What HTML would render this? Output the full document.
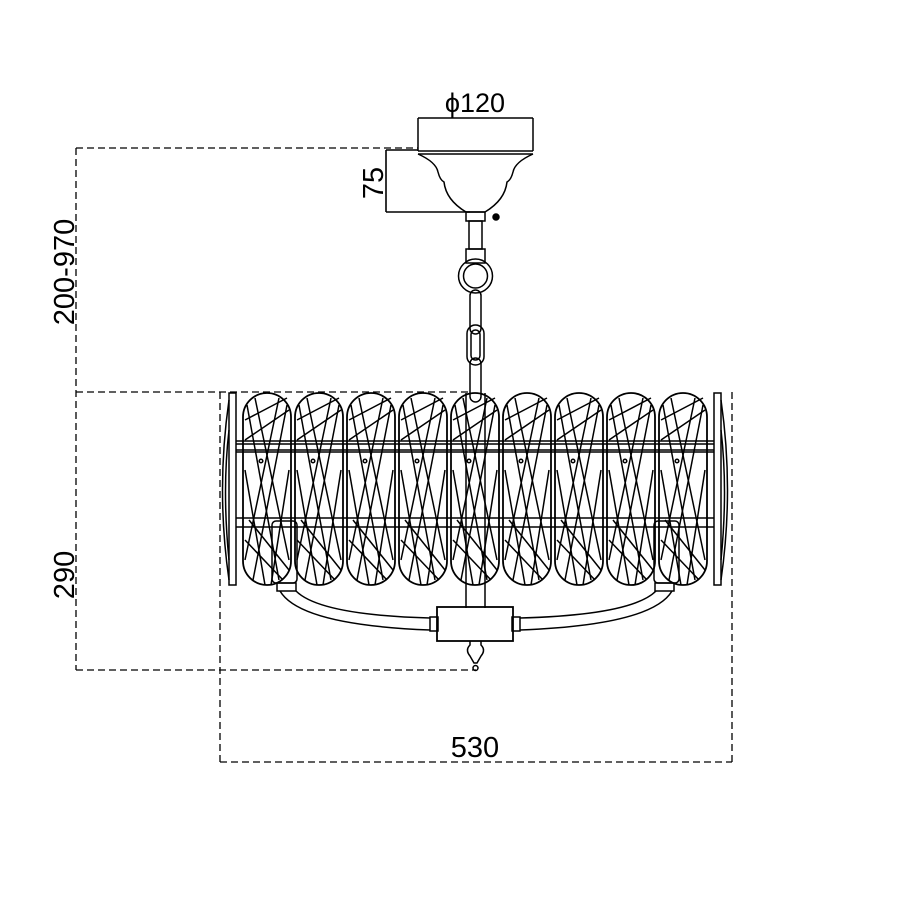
<!DOCTYPE html>
<html><head><style>html,body{margin:0;padding:0;background:#fff}svg{display:block}</style></head>
<body>
<svg width="900" height="900" viewBox="0 0 900 900" xmlns="http://www.w3.org/2000/svg" fill="none" stroke="#000" stroke-width="1.5">
<defs>
<g id="pill">
<rect x="0" y="393" width="48" height="192" rx="24" stroke-width="1.8"/>
<line x1="2" y1="420" x2="44" y2="398"/><line x1="2" y1="440" x2="46" y2="410"/>
<line x1="4" y1="405" x2="36" y2="580"/><line x1="12" y1="398" x2="46" y2="560"/>
<line x1="44" y1="405" x2="10" y2="580"/><line x1="36" y1="398" x2="2" y2="560"/>
<line x1="2" y1="540" x2="40" y2="580"/><line x1="6" y1="520" x2="46" y2="570"/>
<line x1="2" y1="470" x2="22" y2="585"/><line x1="46" y1="470" x2="28" y2="585"/>
<circle cx="18" cy="461" r="1.8"/>
</g>
</defs>
<g stroke-dasharray="7,4" stroke-width="1.3">
<line x1="76" y1="148" x2="418" y2="148"/>
<line x1="76" y1="392" x2="470" y2="392"/>
<line x1="76" y1="670" x2="476" y2="670"/>
<line x1="76" y1="148" x2="76" y2="670"/>
<line x1="220" y1="392" x2="220" y2="762"/>
<line x1="732" y1="392" x2="732" y2="762"/>
<line x1="220" y1="762" x2="732" y2="762"/>
</g>
<line x1="418" y1="118" x2="533" y2="118" stroke-width="1.6"/>
<line x1="418" y1="118" x2="418" y2="151"/>
<line x1="533" y1="118" x2="533" y2="151"/>
<line x1="386" y1="150" x2="418" y2="150"/>
<line x1="386" y1="212" x2="470" y2="212" stroke-width="1.6"/>
<line x1="386" y1="150" x2="386" y2="212" stroke-width="1.6"/>
<line x1="418" y1="151" x2="533" y2="151"/>
<line x1="418" y1="154" x2="533" y2="154"/>
<path d="M418 154 Q436 162 438 172 Q440 180 444 182 Q446 200 466 212 L485 212 Q505 200 507 182 Q511 180 513 172 Q515 162 533 154"/>
<rect x="466" y="212" width="19" height="9"/>
<circle cx="496" cy="217" r="3" fill="#000"/>
<rect x="469" y="221" width="13" height="28"/>
<rect x="466" y="249" width="19" height="14"/>
<circle cx="475.5" cy="276" r="17"/><circle cx="475.5" cy="276" r="12"/>
<rect x="470" y="290" width="11" height="44" rx="5.5"/>
<rect x="467" y="325" width="17" height="40" rx="8.5"/><rect x="471" y="330" width="9" height="30" rx="4.5"/>
<rect x="470" y="358" width="11" height="44" rx="5.5"/>
<rect x="229" y="393" width="7" height="192"/>
<path d="M229 400 Q216 490 229 580"/><path d="M229 430 Q222 490 229 560"/>
<rect x="714" y="393" width="7" height="192"/>
<path d="M721 400 Q734 490 721 580"/><path d="M721 430 Q728 490 721 560"/>
<use href="#pill" x="243"/><use href="#pill" x="295"/><use href="#pill" x="347"/>
<use href="#pill" x="399"/><use href="#pill" x="451"/><use href="#pill" x="503"/>
<use href="#pill" x="555"/><use href="#pill" x="607"/><use href="#pill" x="659"/>
<g stroke-width="1.6">
<line x1="236" y1="441" x2="714" y2="441"/><line x1="236" y1="444" x2="714" y2="444"/>
<line x1="236" y1="450" x2="714" y2="450"/><line x1="236" y1="452" x2="714" y2="452"/>
<line x1="236" y1="518" x2="714" y2="518"/><line x1="236" y1="527" x2="714" y2="527"/>
</g>
<line x1="466" y1="393" x2="466" y2="608"/><line x1="485" y1="393" x2="485" y2="608"/>
<rect x="272" y="521" width="25" height="62" rx="4"/><rect x="277" y="583" width="19" height="8"/>
<rect x="654" y="521" width="25" height="62" rx="4"/><rect x="655" y="583" width="19" height="8"/>
<path d="M280 591 Q300 625 430 630"/><path d="M296 591 Q320 615 430 618"/>
<path d="M672 591 Q652 625 520 630"/><path d="M656 591 Q632 615 520 618"/>
<rect x="430" y="617" width="8" height="14"/><rect x="512" y="617" width="8" height="14"/>
<rect x="437" y="607" width="76" height="34" stroke-width="1.8"/>
<path d="M470 641 L470 645 Q465 650 470 656 L474 663 L477 663 L481 656 Q486 650 481 645 L481 641"/>
<circle cx="475.5" cy="668" r="2.5"/>
<g fill="#000" stroke="none" font-family="Liberation Sans, sans-serif">
<text x="475" y="112" font-size="27" text-anchor="middle">ϕ120</text>
<text x="475" y="757" font-size="29" text-anchor="middle">530</text>
<text transform="translate(383,183) rotate(-90)" font-size="29" text-anchor="middle">75</text>
<text transform="translate(74,272) rotate(-90)" font-size="29" text-anchor="middle">200-970</text>
<text transform="translate(74,575) rotate(-90)" font-size="29" text-anchor="middle">290</text>
</g>
</svg>
</body></html>
